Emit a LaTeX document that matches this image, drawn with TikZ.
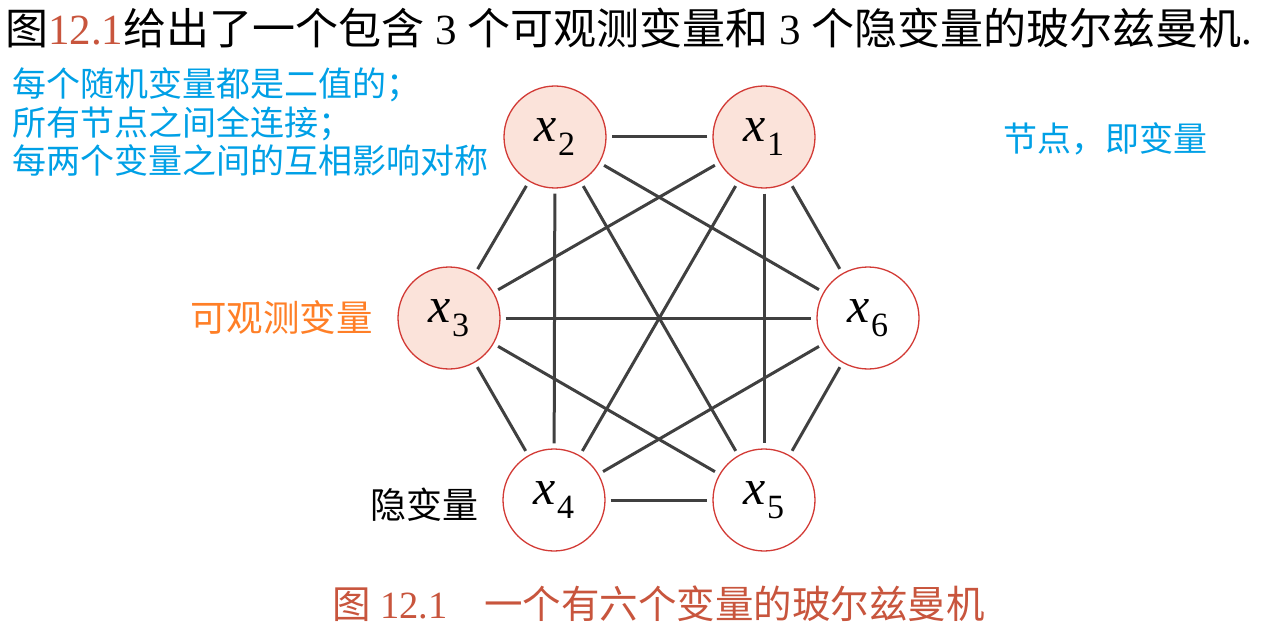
\documentclass[tikz,border=0pt]{standalone}
\usepackage{fontspec}
\setmainfont{Liberation Serif}
\newfontfamily\cjk{Noto Sans CJK SC}
\newcommand\xvar[1]{\textit{x}\kern1pt\raisebox{-0.28em}{\fontsize{34}{36}\selectfont #1}}
\definecolor{edgec}{HTML}{404040}
\definecolor{circR}{HTML}{D23A35}
\definecolor{pinkF}{HTML}{FBE3DA}
\definecolor{noteB}{HTML}{00A0E6}
\definecolor{obsO}{HTML}{FF7F27}
\definecolor{brn}{HTML}{C8553D}
\begin{document}
\begin{tikzpicture}[x=1pt,y=-1pt,
  var/.style={circle, draw=circR, line width=1.3pt, minimum size=102pt, inner sep=0pt, font=\fontsize{50}{52}\selectfont},
  obs/.style={var, fill=pinkF},
  link/.style={draw=edgec, line width=3pt, shorten >=5pt, shorten <=5pt},
  txt/.style={inner sep=0pt, anchor=base west},
  note/.style={txt, font=\fontsize{34}{39}\selectfont\cjk, text=noteB}]
\useasboundingbox (0,0) rectangle (1265,628);
\node[obs] (x1) at (764,137) {\xvar{1}};
\node[obs] (x2) at (555,137) {\xvar{2}};
\node[obs] (x3) at (449,318) {\xvar{3}};
\node[var] (x4) at (554,500) {\xvar{4}};
\node[var] (x5) at (764,500) {\xvar{5}};
\node[var] (x6) at (868,318) {\xvar{6}};
\foreach \a/\b in {1/2,1/3,1/4,1/5,1/6,2/3,2/4,2/5,2/6,3/4,3/5,3/6,4/5,4/6,5/6}
  \draw[link] (x\a) -- (x\b);
\node[txt, font=\fontsize{43}{46}\selectfont] (title) at (5,45) {{\cjk 图}\textcolor{brn}{12.1}{\cjk 给出了一个包含} 3 {\cjk 个可观测变量和} 3 {\cjk 个隐变量的玻尔兹曼机}.};
\node[note] (note1) at (12,97) {每个随机变量都是二值的；};
\node[note] (note2) at (12,136) {所有节点之间全连接；};
\node[note] (note3) at (12,174) {每两个变量之间的互相影响对称};
\node[note] (nodenote) at (1003,152) {节点，即变量};
\node[txt, font=\fontsize{36.5}{39}\selectfont\cjk, text=obsO] (obsnote) at (190,331) {可观测变量};
\node[txt, font=\fontsize{36}{39}\selectfont\cjk, text=black] (hidnote) at (370,518) {隐变量};
\node[txt, font=\fontsize{38.5}{40}\selectfont, text=brn] (caption) at (332,618) {{\cjk 图} 12.1\hspace{0.95em}{\cjk 一个有六个变量的玻尔兹曼机}};
\end{tikzpicture}
\end{document}
